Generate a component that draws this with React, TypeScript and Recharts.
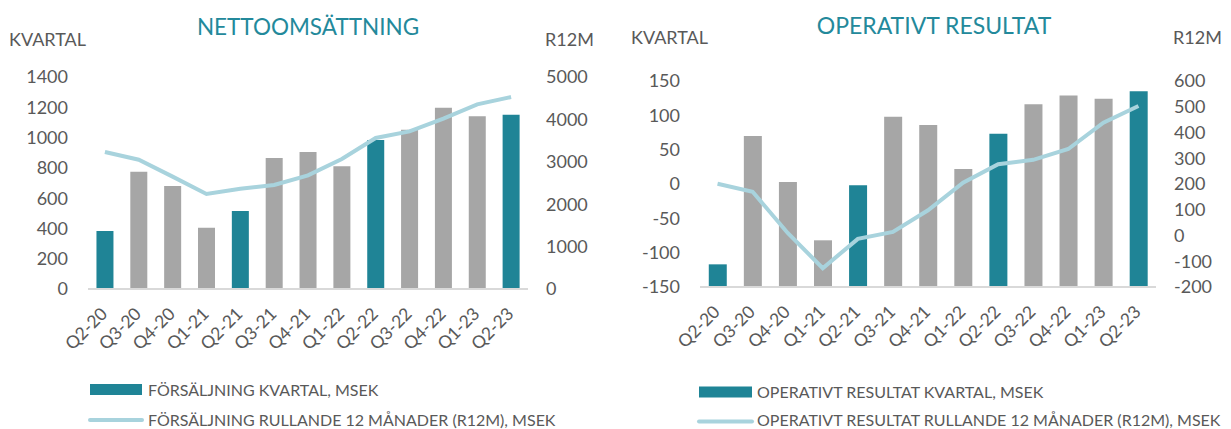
import { ComposedChart, Bar, Line, XAxis, YAxis, Cell } from "recharts";

const quarters = [
  "Q2-20", "Q3-20", "Q4-20", "Q1-21", "Q2-21", "Q3-21", "Q4-21",
  "Q1-22", "Q2-22", "Q3-22", "Q4-22", "Q1-23", "Q2-23",
];

// nettoomsättning
const salesQuarter = [383, 775, 680, 405, 515, 865, 905, 810, 984, 1052, 1197, 1140, 1151];
const salesR12 = [3231, 3050, 2650, 2240, 2366, 2453, 2680, 3066, 3561, 3717, 4017, 4354, 4528];
const salesTicks = [0, 200, 400, 600, 800, 1000, 1200, 1400];
const salesR12Ticks = [0, 1000, 2000, 3000, 4000, 5000];

// operativt resultat
const opQuarter = [-117, 70, 3, -82, -2, 98, 86, 22, 73, 116, 129, 124, 135];
const opR12 = [201, 170, 10, -127, -13, 14, 98, 205, 277, 294, 336, 438, 503];
const opTicks = [-150, -100, -50, 0, 50, 100, 150];
const opR12Ticks = [-200, -100, 0, 100, 200, 300, 400, 500, 600];

const TEAL = "#1f8496";
const GREY = "#a6a6a6";
const LINE = "#a8d3dd";
const TEXT = "#595959";
const TITLE = "#23899b";
const AXIS = "#d9d9d9";
const FONT = "Lato, 'Open Sans', sans-serif";

const salesData = quarters.map((q, i) => ({ q, kvartal: salesQuarter[i], r12: salesR12[i] }));
// excel draws the bars up from the bottom of the axis, not from 0
const opData = quarters.map((q, i) => ({
  q,
  kvartal: [opTicks[0], opQuarter[i]],
  r12: opR12[i],
}));

const XTick = (props: any) => {
  const { x, y, payload } = props;
  const px = x + 3.5;
  const py = y + 26;
  return (
    <text
      x={px}
      y={py}
      transform={`rotate(-45 ${px} ${py})`}
      textAnchor="end"
      fill={TEXT}
      fontSize={17.5}
      fontFamily={FONT}
    >
      {payload.value}
    </text>
  );
};

type PanelProps = {
  data: any[];
  width: number;
  top: number;
  plotBottom: number;
  leftW: number;
  rightW: number;
  leftDomain: number[];
  leftTicks: number[];
  rightDomain: number[];
  rightTicks: number[];
};

function Panel(p: PanelProps) {
  const height = 360;
  const tick = { fontSize: 18, fill: TEXT, fontFamily: FONT };
  return (
    <ComposedChart
      width={p.width}
      height={height}
      data={p.data}
      margin={{ top: p.top, right: 0, bottom: 0, left: 0 }}
      barCategoryGap="25%"
    >
      <XAxis
        dataKey="q"
        interval={0}
        height={height - p.plotBottom}
        axisLine={{ stroke: AXIS, strokeWidth: 2 }}
        tickLine={false}
        tickSize={0}
        tickMargin={0}
        tick={<XTick />}
      />
      <YAxis
        yAxisId="left"
        width={p.leftW}
        domain={p.leftDomain}
        ticks={p.leftTicks}
        interval={0}
        axisLine={false}
        tickLine={false}
        tickSize={0}
        tickMargin={20}
        tick={tick}
      />
      <YAxis
        yAxisId="right"
        orientation="right"
        width={p.rightW}
        domain={p.rightDomain}
        ticks={p.rightTicks}
        interval={0}
        axisLine={false}
        tickLine={false}
        tickSize={0}
        tickMargin={18}
        tick={{ ...tick, textAnchor: "start" }}
      />
      <Bar yAxisId="left" dataKey="kvartal" isAnimationActive={false}>
        {p.data.map((d) => (
          <Cell key={d.q} fill={d.q.startsWith("Q2") ? TEAL : GREY} />
        ))}
      </Bar>
      <Line
        yAxisId="right"
        type="linear"
        dataKey="r12"
        stroke={LINE}
        strokeWidth={4}
        dot={false}
        isAnimationActive={false}
      />
    </ComposedChart>
  );
}

export default function App() {
  return (
    <div
      style={{
        position: "absolute",
        left: 0,
        top: 0,
        width: 1231,
        height: 429,
        background: "#fff",
        overflow: "hidden",
      }}
    >
      <div style={{ position: "absolute", left: 0, top: 0 }}>
        <Panel
          data={salesData}
          width={615}
          top={77}
          plotBottom={289}
          leftW={88}
          rightW={87}
          leftDomain={[0, 1400]}
          leftTicks={salesTicks}
          rightDomain={[0, 5000]}
          rightTicks={salesR12Ticks}
        />
      </div>
      <div style={{ position: "absolute", left: 615, top: 0 }}>
        <Panel
          data={opData}
          width={616}
          top={81}
          plotBottom={287}
          leftW={85}
          rightW={75}
          leftDomain={[-150, 150]}
          leftTicks={opTicks}
          rightDomain={[-200, 600]}
          rightTicks={opR12Ticks}
        />
      </div>
      <svg
        width={1231}
        height={429}
        style={{ position: "absolute", left: 0, top: 0, pointerEvents: "none" }}
        fontFamily={FONT}
      >
        <text x={308} y={35} textAnchor="middle" fontSize={22.5} fill={TITLE}>
          NETTOOMSÄTTNING
        </text>
        <text x={9} y={46} fontSize={18} fill={TEXT}>KVARTAL</text>
        <text x={545} y={46} fontSize={18} fill={TEXT}>R12M</text>

        <text x={934} y={34} textAnchor="middle" fontSize={23} fill={TITLE}>
          OPERATIVT RESULTAT
        </text>
        <text x={631} y={44} fontSize={18} fill={TEXT}>KVARTAL</text>
        <text x={1173} y={44} fontSize={18} fill={TEXT}>R12M</text>

        <rect x={90} y={384} width={52} height={11} fill={TEAL} />
        <text x={148} y={395.5} fontSize={16} fill={TEXT}>FÖRSÄLJNING KVARTAL, MSEK</text>
        <line x1={90} x2={142} y1={420} y2={420} stroke={LINE} strokeWidth={4} strokeLinecap="round" />
        <text x={148} y={426} fontSize={16} fill={TEXT}>
          FÖRSÄLJNING RULLANDE 12 MÅNADER (R12M), MSEK
        </text>

        <rect x={699} y={386.5} width={53} height={11} fill={TEAL} />
        <text x={757} y={398} fontSize={16} fill={TEXT}>OPERATIVT RESULTAT KVARTAL, MSEK</text>
        <line x1={699} x2={752} y1={421.5} y2={421.5} stroke={LINE} strokeWidth={4} strokeLinecap="round" />
        <text x={757} y={426} fontSize={16} fill={TEXT}>
          OPERATIVT RESULTAT RULLANDE 12 MÅNADER (R12M), MSEK
        </text>
      </svg>
    </div>
  );
}
